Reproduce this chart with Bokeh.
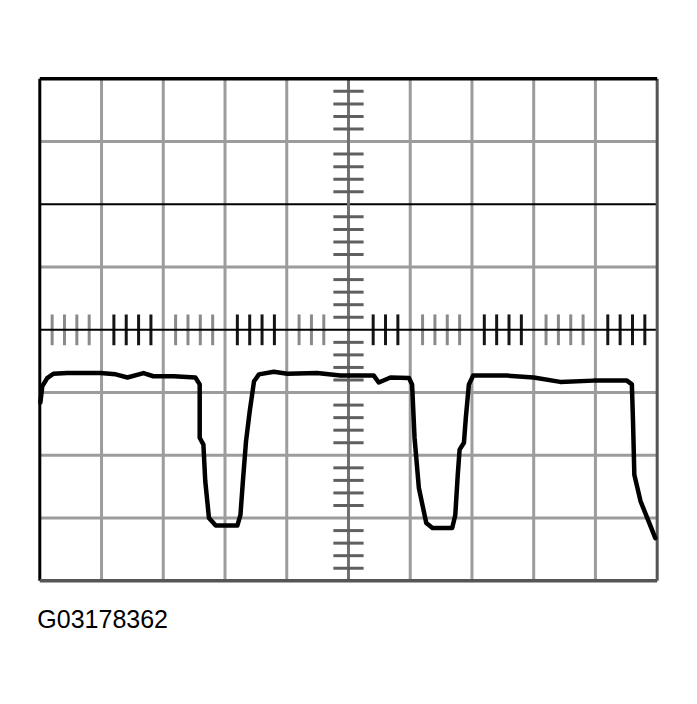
import numpy as np
from bokeh.plotting import figure
from bokeh.models import Range1d, ColumnDataSource
from bokeh.embed import file_html
from bokeh.resources import INLINE
from bokeh.core.properties import value

# Oscilloscope trace, in screen divisions (x: 0..10 time divisions, y: -4..4 volt divisions)
trace_x = [0.01, 0.04, 0.12, 0.22, 0.44, 0.98, 1.23, 1.42, 1.68, 1.84, 2.17, 2.52,
           2.59, 2.59, 2.65, 2.68, 2.74, 2.85, 3.20, 3.25, 3.29, 3.34, 3.40, 3.47,
           3.55, 3.79, 4.01, 4.49, 4.87, 5.41, 5.49, 5.68, 5.98, 6.03, 6.07, 6.14,
           6.26, 6.36, 6.68, 6.73, 6.77, 6.80, 6.87, 6.90, 6.95, 7.02, 7.57, 8.00,
           8.43, 8.97, 9.51, 9.59, 9.61, 9.63, 9.73, 9.86, 9.97]
trace_y = [-1.16, -0.90, -0.77, -0.70, -0.69, -0.69, -0.71, -0.76, -0.69, -0.74, -0.74, -0.76,
           -0.87, -1.72, -1.83, -2.41, -3.00, -3.12, -3.12, -2.95, -2.41, -1.78, -1.30, -0.82,
           -0.71, -0.67, -0.70, -0.69, -0.73, -0.73, -0.84, -0.76, -0.77, -0.87, -1.72, -2.52,
           -3.08, -3.16, -3.16, -2.95, -2.31, -1.91, -1.80, -1.41, -0.87, -0.73, -0.73, -0.76,
           -0.83, -0.81, -0.81, -0.87, -1.51, -2.31, -2.73, -3.05, -3.32]

n_xdiv = 10
n_ydiv = 8
subdiv = 5
caption = "G03178362"

W, H = 681, 650
p = figure(width=W, height=H, output_backend="svg", toolbar_location=None,
           x_range=Range1d(-0.6365, 10.394), y_range=Range1d(-5.111, 5.248),
           x_axis_location=None, y_axis_location=None,
           min_border_left=0, min_border_right=0, min_border_top=0, min_border_bottom=0)
p.outline_line_color = None
p.background_fill_color = "white"
p.border_fill_color = "white"
p.xgrid.visible = False
p.ygrid.visible = False

half_y = n_ydiv / 2
xc = n_xdiv / 2

# gray grid
gx = [i for i in range(1, n_xdiv) if i != xc]
p.segment(x0=gx, y0=[-half_y] * len(gx), x1=gx, y1=[half_y] * len(gx),
          line_color="#9c9c9c", line_width=3)
gy = [j for j in range(-3, 4) if j not in (0, 2)]
p.segment(x0=[0] * len(gy), y0=gy, x1=[n_xdiv] * len(gy), y1=gy,
          line_color="#9c9c9c", line_width=3)

# thin black horizontal line at +2
p.segment(x0=[0], y0=[2], x1=[n_xdiv], y1=[2], line_color="black", line_width=2)

# center vertical line
p.segment(x0=[xc], y0=[-half_y], x1=[xc], y1=[half_y], line_color="#707070", line_width=3)

# tick marks on horizontal center line
tx, tcol = [], []
for i in range(n_xdiv):
    for k in range(1, subdiv):
        xx = i + k / subdiv
        if abs(xx - xc) < 0.3:
            continue
        tx.append(xx)
        tcol.append("#8a8a8a" if i % 2 == 0 else "#151515")
p.segment(x0=tx, y0=[-0.245] * len(tx), x1=tx, y1=[0.245] * len(tx), line_color=tcol, line_width=3)

# tick marks on vertical center line
ty = []
for j in range(-int(half_y), int(half_y)):
    for k in range(1, subdiv):
        ty.append(j + k / subdiv)
p.segment(x0=[xc - 0.245] * len(ty), y0=ty, x1=[xc + 0.245] * len(ty), y1=ty,
          line_color="#606060", line_width=3)

# center horizontal line (thin black)
p.segment(x0=[0], y0=[0], x1=[n_xdiv], y1=[0], line_color="black", line_width=2)

# border
p.segment(x0=[0, n_xdiv], y0=[-half_y, -half_y], x1=[0, n_xdiv], y1=[half_y, half_y],
          line_color=["black", "#555555"], line_width=3)
p.segment(x0=[0, 0], y0=[half_y, -half_y], x1=[n_xdiv, n_xdiv], y1=[half_y, -half_y],
          line_color=["black", "#555555"], line_width=3.5)

# trace
src = ColumnDataSource(dict(x=trace_x, y=trace_y))
p.line("x", "y", source=src, line_color="black", line_width=4.5, line_join="round", line_cap="round")

# caption
p.text(x=[-0.04], y=[-4.61], text=[caption], text_font=value("Liberation Sans"),
       text_font_size="25px", text_color="black", text_baseline="alphabetic", text_align="left")

open("out.html", "w").write(file_html(p, INLINE))
